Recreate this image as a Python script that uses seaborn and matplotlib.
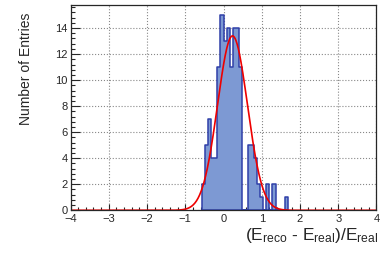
import numpy as np
import pandas as pd
import matplotlib
matplotlib.use("Agg")
import matplotlib.pyplot as plt
from matplotlib.ticker import MultipleLocator
import seaborn as sns

# histogram: bin width 0.08
bin_centres = [-0.52, -0.44, -0.36, -0.28, -0.20, -0.12, -0.04, 0.04, 0.12, 0.20,
               0.28, 0.36, 0.44, 0.52, 0.60, 0.68, 0.76, 0.84, 0.92, 1.00,
               1.08, 1.16, 1.24, 1.32, 1.40, 1.48, 1.56, 1.64]
counts = [2, 5, 7, 4, 4, 11, 15, 13, 14, 11,
          14, 14, 11, 0, 0, 5, 5, 4, 2, 1,
          0, 2, 0, 2, 0, 0, 0, 1]

# gaussian fit parameters
fit_amp = 13.4
fit_mean = 0.235
fit_sigma = 0.39

sns.set_style("ticks")
plt.rcParams['font.family'] = ['Liberation Sans', 'DejaVu Sans']
plt.rcParams['mathtext.default'] = 'regular'

df = pd.DataFrame({"x": bin_centres, "n": counts})

fig = plt.figure(figsize=(3.82, 2.58), dpi=100)
ax = fig.add_axes([0.1846, 0.1849, 0.801, 0.7946])

sns.histplot(data=df, x="x", weights="n", binwidth=0.08, binrange=(-0.56, 1.68),
             element="step", fill=True, color="#7d99d3", alpha=1.0,
             edgecolor="#2f3fa8", linewidth=1.1, ax=ax)

xs = np.linspace(-4, 4, 800)
ax.plot(xs, fit_amp * np.exp(-0.5 * ((xs - fit_mean) / fit_sigma) ** 2),
        color="#ee0000", lw=1.2)

ax.set_xlim(-4, 4)
ax.set_ylim(0, 15.75)
ax.xaxis.set_major_locator(MultipleLocator(1))
ax.xaxis.set_minor_locator(MultipleLocator(0.2))
ax.yaxis.set_major_locator(MultipleLocator(2))
ax.yaxis.set_minor_locator(MultipleLocator(0.4))
ax.tick_params(which="both", direction="in", labelsize=8, width=0.8)
ax.tick_params(axis="x", which="major", length=4.3, pad=3)
ax.tick_params(axis="x", which="minor", length=2.2)
ax.tick_params(axis="y", which="major", length=6.5, pad=2)
ax.tick_params(axis="y", which="minor", length=3.2)

ax.set_axisbelow(True)
ax.grid(True, which="major", linestyle=":", color="#888888", linewidth=0.8)
for s in ax.spines.values():
    s.set_linewidth(0.9)

ax.set_ylabel("Number of Entries", fontsize=10)
ax.yaxis.set_label_coords(-0.122, 0.69)
ax.set_xlabel(r"(E$_{reco}$ - E$_{real}$)/E$_{real}$", fontsize=12.5, ha="right")
ax.xaxis.set_label_coords(1.005, -0.075)

fig.savefig("out.png", dpi=100)
